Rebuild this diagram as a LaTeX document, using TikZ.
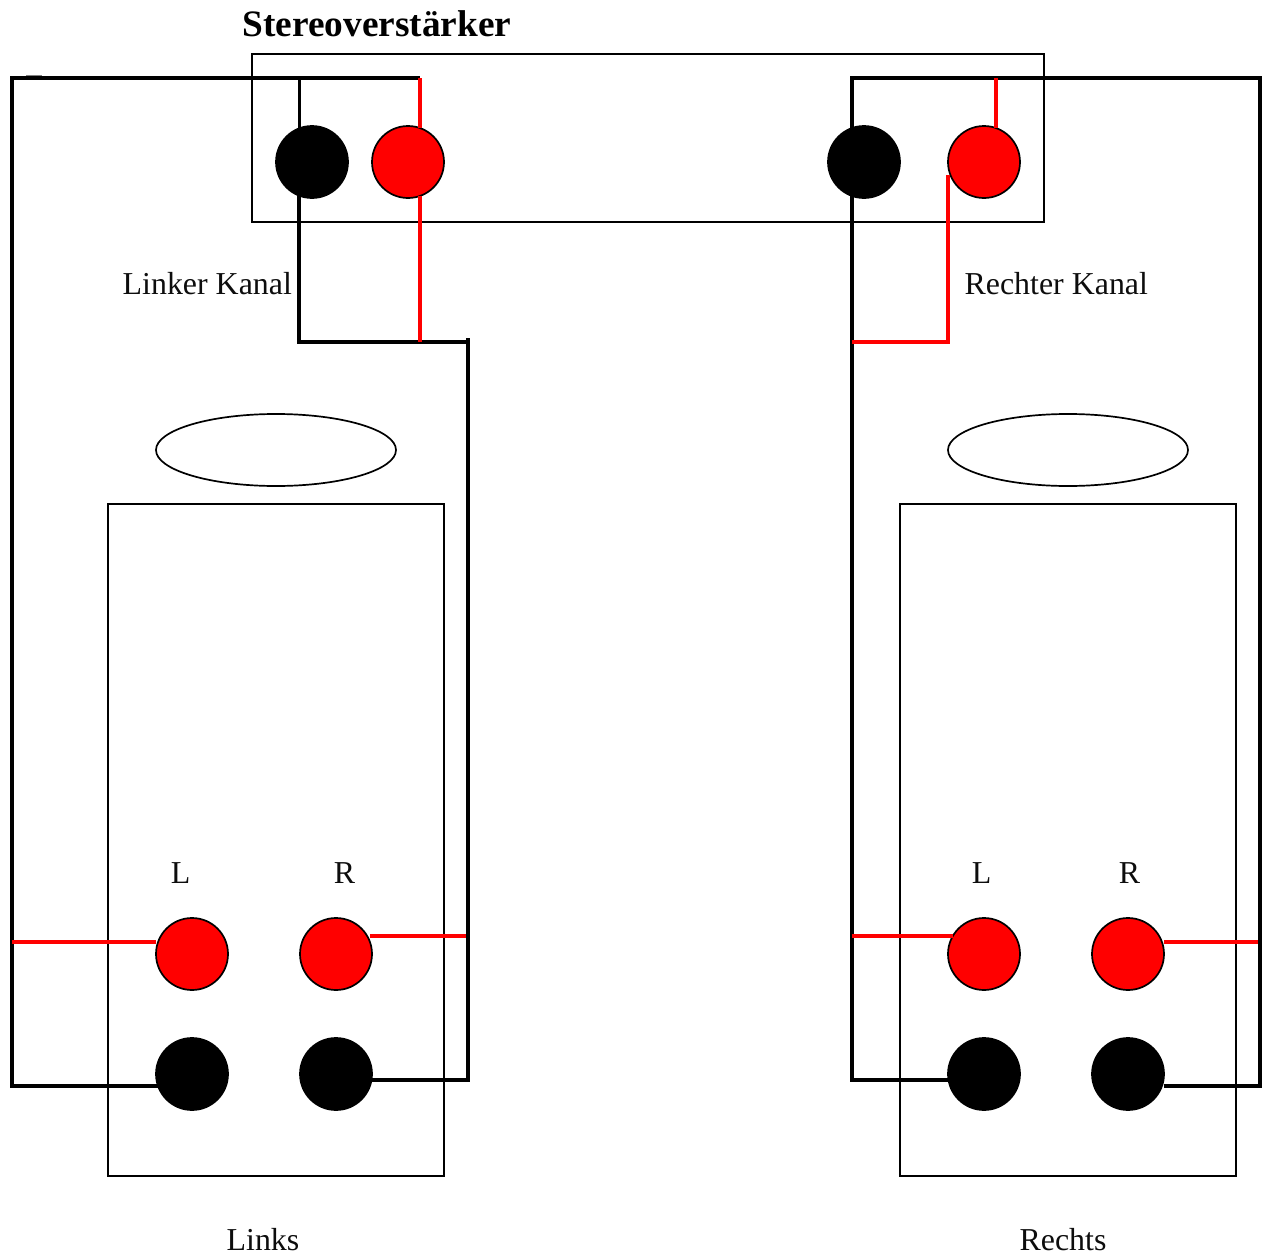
\documentclass[tikz,border=0pt]{standalone}
\usepackage{fontspec}
\setmainfont{Liberation Serif}
\usepackage{xcolor}
\usetikzlibrary{shapes.geometric}
\definecolor{wirered}{RGB}{255, 0, 0}
\tikzset{
  gehaeuse/.style={draw=black, line width=1.7pt, fill=none},
  schwarzpol/.style={circle, draw=black, fill=black, line width=1.7pt, minimum size=72pt, inner sep=0pt, outer sep=0pt},
  rotpol/.style={circle, draw=black, fill=wirered, line width=1.7pt, minimum size=72pt, inner sep=0pt, outer sep=0pt},
  schwarzkabel/.style={draw=black, line width=3.6pt},
  rotkabel/.style={draw=wirered, line width=3.8pt},
  beschriftung/.style={anchor=base, inner sep=0pt, font=\fontsize{31.9}{36}\selectfont, text=black!95}
}

\begin{document}
\begin{tikzpicture}[x=1pt, y=-1pt]
\useasboundingbox (0,0) rectangle (1262,1258);

% Amplifier and speaker cabinets
\node[gehaeuse, rectangle, minimum width=792pt, minimum height=168pt, inner sep=0pt, outer sep=0pt] (verstaerker) at (648,138) {};
\node[gehaeuse, rectangle, minimum width=336pt, minimum height=672pt, inner sep=0pt, outer sep=0pt] (boxlinks) at (276,840) {};
\node[gehaeuse, rectangle, minimum width=336pt, minimum height=672pt, inner sep=0pt, outer sep=0pt] (boxrechts) at (1068,840) {};
\node[gehaeuse, ellipse, minimum width=240pt, minimum height=72pt, inner sep=0pt, outer sep=0pt] (ovallinks) at (276,450) {};
\node[gehaeuse, ellipse, minimum width=240pt, minimum height=72pt, inner sep=0pt, outer sep=0pt] (ovalrechts) at (1068,450) {};

% Amplifier terminals
\node[schwarzpol] (vsl) at (312,162) {};
\node[rotpol] (vrl) at (408,162) {};
\node[schwarzpol] (vsr) at (864,162) {};
\node[rotpol] (vrr) at (984,162) {};

% Speaker terminals
\node[rotpol] (lrl) at (192,954) {};
\node[rotpol] (lrr) at (336,954) {};
\node[schwarzpol] (lsl) at (192,1074) {};
\node[schwarzpol] (lsr) at (336,1074) {};
\node[rotpol] (rrl) at (984,954) {};
\node[rotpol] (rrr) at (1128,954) {};
\node[schwarzpol] (rsl) at (984,1074) {};
\node[schwarzpol] (rsr) at (1128,1074) {};

% Corners of the cable runs
\coordinate (obenl) at (12,78);
\coordinate (obenm) at (420,78);
\coordinate (untenl) at (12,1086);
\coordinate (knickl) at (299,342);
\coordinate (knickm) at (468,342);
\coordinate (stubl) at (468,338);
\coordinate (untenm) at (468,1080);
\coordinate (rotl) at (12,942);
\coordinate (rotm) at (466,936);
\coordinate (obenr) at (1260,78);
\coordinate (obenk) at (852,78);
\coordinate (untenr) at (1260,1086);
\coordinate (untenk) at (852,1080);
\coordinate (knickr) at (852,342);
\coordinate (rotk) at (852,936);
\coordinate (rotr) at (1258,942);
\coordinate (rotq) at (948,342);
\coordinate (rotp) at (948,175);

% Left channel, black
\draw[schwarzkabel] (untenl -| lsl.199) -- (untenl) -- (obenl) -- (obenm);
\draw[schwarzkabel] (vsl.110) -- (vsl.110 |- obenl);
\draw[schwarzkabel] (vsl.250 -| knickl) -- (knickl) -- (knickm);
\draw[schwarzkabel] (stubl) -- (untenm) -- (untenm -| lsr.east);

% Left channel, red
\draw[rotkabel] (vrl.70 -| obenm) -- (obenm);
\draw[rotkabel] (vrl.290 -| obenm) -- (knickl -| obenm);
\draw[rotkabel] (rotl) -- (rotl -| lrl.west);
\draw[rotkabel] (rotm -| lrr.20) -- (rotm);

% Right channel, black
\draw[schwarzkabel] (vsr.110 -| obenk) -- (obenk) -- (obenr) -- (untenr) -- (untenr -| rsr.east);
\draw[schwarzkabel] (vsr.250 -| obenk) -- (untenk) -- (untenk -| rsl.west);

% Right channel, red
\draw[rotkabel] (vrr.71) -- (vrr.71 |- obenr);
\draw[rotkabel] (rotp) -- (rotq) -- (knickr);
\draw[rotkabel] (rotk) -- (rotk -| rrl.150);
\draw[rotkabel] (rotr -| rrr.east) -- (rotr);

% Small grey mark above the top cable
\draw[black!50, line width=1pt] (26,75.5) -- (42,75.5);

% Labels
\node[beschriftung, font=\fontsize{37.3}{40}\selectfont\bfseries, text=black] (titel) at (377,36) {Stereoverstärker};
\node[beschriftung] (kanall) at (207.3,294) {Linker Kanal};
\node[beschriftung] (kanalr) at (1056.3,294) {Rechter Kanal};
\node[beschriftung] (ll) at (180.5,883) {L};
\node[beschriftung] (lr) at (344.5,883) {R};
\node[beschriftung] (rl) at (981.5,883) {L};
\node[beschriftung] (rr) at (1129.5,883) {R};
\node[beschriftung] (links) at (263,1250) {Links};
\node[beschriftung] (rechts) at (1063,1250) {Rechts};
\end{tikzpicture}
\end{document}
